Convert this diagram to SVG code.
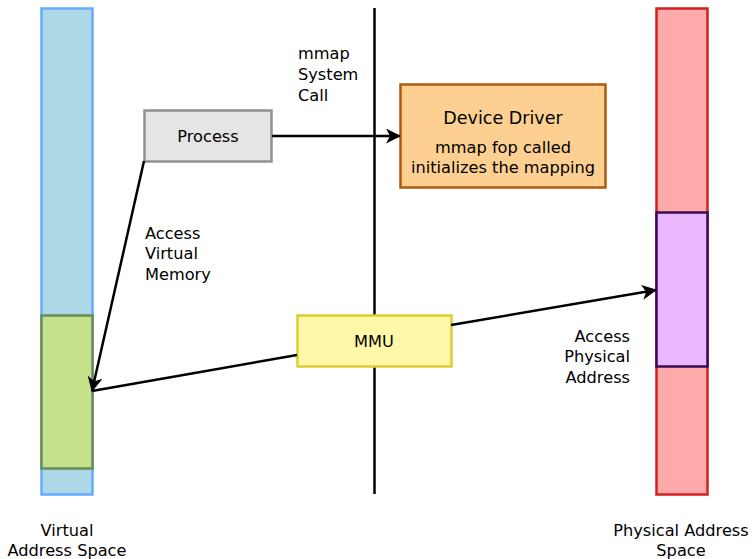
<svg xmlns="http://www.w3.org/2000/svg" width="752" height="559" viewBox="0 0 752 559">
<defs>
<style>
text{font-family:"DejaVu Sans","Noto Sans",sans-serif;font-size:16.2px;fill:#000}
.c{stroke:#000;stroke-width:2.5;fill:none}
</style>
<marker id="ah" viewBox="0 0 15 15" refX="14" refY="7.5" markerWidth="15" markerHeight="15" markerUnits="userSpaceOnUse" orient="auto">
<path d="M0,0 L15,7.5 L0,15 L4,7.5 Z" fill="#000"/>
</marker>
</defs>
<rect width="752" height="559" fill="#fff"/>
<g id="virtual-space">
<rect x="41.5" y="8.5" width="51" height="486" fill="#add8e6" stroke="#66aaff" stroke-width="2.5"/>
<text x="67" y="536" text-anchor="middle">Virtual</text>
<text x="67" y="556" text-anchor="middle">Address Space</text>
</g>
<g id="virtual-region">
<rect x="41.5" y="315.5" width="51" height="153" fill="#c5e28a" stroke="#6a8a5a" stroke-width="2.5"/>
</g>
<g id="physical-space">
<rect x="656.5" y="8.5" width="51" height="486" fill="#ffaaaa" stroke="#d42020" stroke-width="2.5"/>
<text x="681" y="536" text-anchor="middle">Physical Address</text>
<text x="681" y="556" text-anchor="middle">Space</text>
</g>
<g id="physical-region">
<rect x="656.5" y="212.5" width="51" height="154" fill="#ebb8ff" stroke="#3a0a5a" stroke-width="2.5"/>
</g>
<g id="boundary">
<line x1="374.5" y1="8" x2="374.5" y2="494" stroke="#000" stroke-width="2.5"/>
</g>
<g id="process">
<rect x="144.5" y="110.5" width="127" height="51" fill="#e5e5e5" stroke="#909090" stroke-width="2.5"/>
<text x="208" y="142" text-anchor="middle">Process</text>
</g>
<g id="device-driver">
<rect x="400.5" y="84.5" width="205" height="103" fill="#fdd092" stroke="#b05a10" stroke-width="2.5"/>
<text x="503" y="124" text-anchor="middle" style="font-size:17.5px">Device Driver</text>
<text x="503" y="153" text-anchor="middle">mmap fop called</text>
<text x="503" y="173" text-anchor="middle">initializes the mapping</text>
</g>
<g id="mmu">
<rect x="297.5" y="315.5" width="154" height="51" fill="#fff8a8" stroke="#ddcc33" stroke-width="2.5"/>
<text x="374" y="347" text-anchor="middle">MMU</text>
</g>
<g id="connectors">
<line class="c" x1="272" y1="136" x2="400" y2="136" marker-end="url(#ah)"/>
<line class="c" x1="144" y1="161" x2="92" y2="391" marker-end="url(#ah)"/>
<line class="c" x1="297" y1="355" x2="92" y2="391"/>
<line class="c" x1="451" y1="325" x2="656" y2="290" marker-end="url(#ah)"/>
</g>
<g id="labels">
<text x="298" y="59">mmap</text>
<text x="298" y="80">System</text>
<text x="298" y="101">Call</text>
<text x="145" y="239">Access</text>
<text x="145" y="259">Virtual</text>
<text x="145" y="280">Memory</text>
<text x="630" y="342" text-anchor="end">Access</text>
<text x="630" y="362" text-anchor="end">Physical</text>
<text x="630" y="383" text-anchor="end">Address</text>
</g>
</svg>
